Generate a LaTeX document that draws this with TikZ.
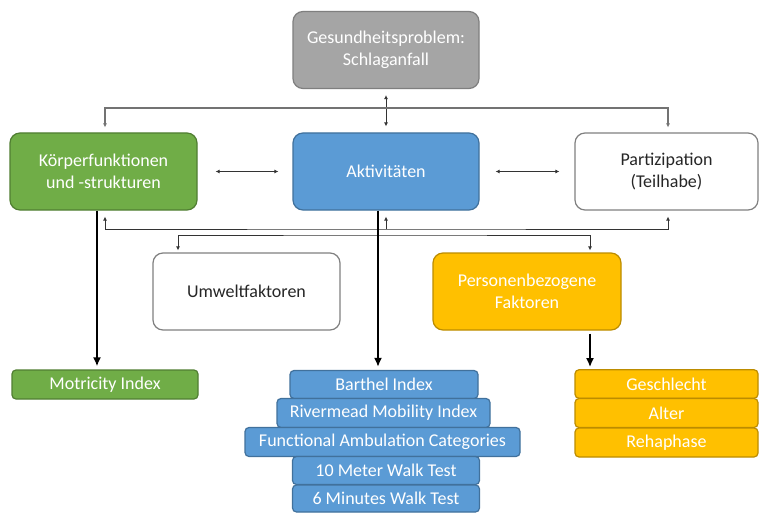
\documentclass[tikz,border=0pt]{standalone}
\usepackage{fontspec}
\setmainfont{Carlito}
\usetikzlibrary{arrows.meta}
\definecolor{gfill}{HTML}{A5A5A5}\definecolor{gdraw}{HTML}{7F7F7F}
\definecolor{grfill}{HTML}{70AD47}\definecolor{grdraw}{HTML}{507E32}
\definecolor{blfill}{HTML}{5B9BD5}\definecolor{bldraw}{HTML}{41719C}
\definecolor{orfill}{HTML}{FFC000}\definecolor{ordraw}{HTML}{BC8C00}
\definecolor{wdraw}{HTML}{808080}
\begin{document}
\begin{tikzpicture}[x=1pt,y=-1pt,
  bigbox/.style={rectangle, rounded corners=10pt, line width=1.2pt, minimum height=77pt, align=center, inner sep=0pt, font=\fontsize{18}{22.5}\selectfont},
  smallbox/.style={rectangle, rounded corners=4pt, line width=1.2pt, inner sep=0pt, font=\fontsize{18}{21}\selectfont},
  grayb/.style={fill=gfill, draw=gdraw, text=white},
  greenb/.style={fill=grfill, draw=grdraw, text=white},
  blueb/.style={fill=blfill, draw=bldraw, text=white},
  orb/.style={fill=orfill, draw=ordraw, text=white},
  whiteb/.style={fill=white, draw=wdraw, text=black!85},
  tl/.style={draw=black!80, line width=1pt, arrows={-}},
  tipst/.style={{Latex[length=4pt,width=4pt]}-{Latex[length=4pt,width=4pt]}},
  tipone/.style={-{Latex[length=4pt,width=4pt]}},
  tk/.style={draw=black, line width=2.2pt, -{Latex[length=9pt,width=8pt]}}
]
\useasboundingbox (0,0) rectangle (759,513);
\fill[white] (0,0) rectangle (759,513);

% main boxes
\node[bigbox, grayb, minimum width=186pt] (gp) at (386,50) {Gesundheitsproblem:\\Schlaganfall};
\node[bigbox, greenb, minimum width=187pt] (kf) at (103.5,171.5) {Körperfunktionen\\und -strukturen};
\node[bigbox, blueb, minimum width=186pt] (ak) at (386,171.5) {Aktivitäten};
\node[bigbox, whiteb, minimum width=183pt] (pt) at (666.5,171.5) {Partizipation\\(Teilhabe)};
\node[bigbox, whiteb, minimum width=187pt] (uw) at (246.5,291.5) {Umweltfaktoren};
\node[bigbox, orb, minimum width=188pt] (pf) at (527,291.5) {Personenbezogene\\Faktoren};

% lower boxes
\node[smallbox, greenb, minimum width=186pt, minimum height=29pt] (mi) at (105,384.5) {Motricity Index};
\node[smallbox, blueb, minimum width=188pt, minimum height=28pt] (ba) at (384,384.5) {Barthel Index};
\node[smallbox, blueb, minimum width=213pt, minimum height=29pt] (rm) at (383.5,413) {Rivermead Mobility Index};
\node[smallbox, blueb, minimum width=275pt, minimum height=29pt] (fa) at (382.5,442) {Functional Ambulation Categories};
\node[smallbox, blueb, minimum width=187pt, minimum height=28pt] (mw) at (386,470.5) {10 Meter Walk Test};
\node[smallbox, blueb, minimum width=187pt, minimum height=27pt] (sw) at (386,498.5) {6 Minutes Walk Test};
\node[smallbox, orb, minimum width=183pt, minimum height=28.5pt] (ge) at (666.5,384) {Geschlecht};
\node[smallbox, orb, minimum width=183pt, minimum height=29pt] (al) at (666.5,413) {Alter};
\node[smallbox, orb, minimum width=183pt, minimum height=29pt] (rh) at (666.5,442.5) {Rehaphase};

% helper coordinates
\coordinate (hb) at (386,108);
\coordinate (lb) at (386,229);
\coordinate (lc) at (386,235);

% thin connectors
\draw[tl, tipst, shorten <=6pt, shorten >=6pt] (gp.south) -- (ak.north);
\draw[draw=black!55, line width=1.2pt, tipst, shorten <=5pt, shorten >=5pt] ([xshift=1.5pt]kf.north) |- (hb) -| ([xshift=1.5pt]pt.north);
\draw[tl, tipst, shorten <=18pt, shorten >=14pt] (kf.east) -- (ak.west);
\draw[tl, tipst, shorten <=16pt, shorten >=15pt] (ak.east) -- (pt.west);
\draw[tl, tipst, shorten <=6pt, shorten >=6pt] ([xshift=1.5pt]kf.south) |- (lb) -| ([xshift=1.5pt]pt.south);
\draw[tl, tipone, shorten >=6pt] (lb) -- (ak.south);
\draw[tl, tipst, shorten <=2pt, shorten >=2pt] ([xshift=-68.5pt]uw.north) |- (lc) -| ([xshift=63pt]pf.north);

% thick connectors
\draw[tk, shorten >=3pt] ([xshift=-6.5pt]kf.south) -- ([xshift=-6.5pt]kf.south |- mi.north);
\draw[tk, shorten >=3pt] ([xshift=-8pt]ak.south) -- ([xshift=-8pt]ak.south |- ba.north);
\draw[tk, shorten <=3pt, shorten >=2pt] ([xshift=63pt]pf.south) -- ([xshift=63pt]pf.south |- ge.north);
\end{tikzpicture}
\end{document}
